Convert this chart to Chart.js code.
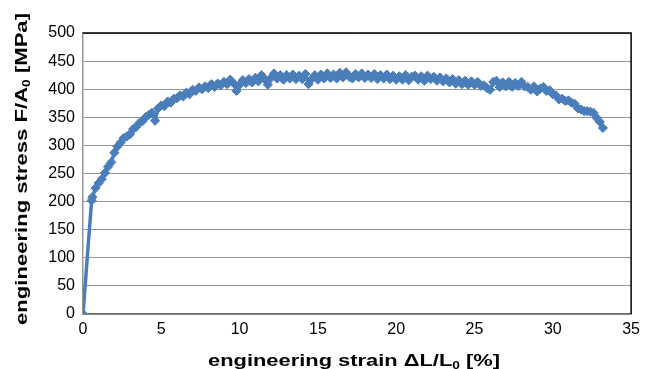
<!DOCTYPE html>
<html>
<head>
<meta charset="utf-8">
<script src="https://cdn.jsdelivr.net/npm/chart.js@4/dist/chart.umd.min.js"></script>
<style>
  html, body { margin: 0; padding: 0; background: #fff; }
  canvas { display: block; }
</style>
</head>
<body>
<canvas id="tensile" width="646" height="369"></canvas>
<script>
// tensile test: engineering strain [%] vs engineering stress [MPa]
const strain = [
  0, 0.55, 0.6, 0.8, 1.0, 1.2, 1.4, 1.6, 1.8, 2.0, 2.2, 2.4, 2.6, 2.8, 3.0, 3.2, 3.4, 3.6, 3.8,
  4.0, 4.2, 4.4, 4.6, 4.8, 5.0, 5.2, 5.4, 5.6, 5.8, 6.0, 6.2, 6.4, 6.6, 6.8, 7.0, 7.2, 7.4, 7.6, 7.8,
  8.0, 8.2, 8.4, 8.6, 8.8, 9.0, 9.2, 9.4, 9.6, 9.8, 10.0, 10.2, 10.4, 10.6, 10.8, 11.0, 11.2, 11.4,
  11.6, 11.8, 12.0, 12.2, 12.4, 12.6, 12.8, 13.0, 13.2, 13.4, 13.6, 13.8, 14.0, 14.2, 14.4, 14.6,
  14.8, 15.0, 15.2, 15.4, 15.6, 15.8, 16.0, 16.2, 16.4, 16.6, 16.8, 17.0, 17.2, 17.4, 17.6, 17.8,
  18.0, 18.2, 18.4, 18.6, 18.8, 19.0, 19.2, 19.4, 19.6, 19.8, 20.0, 20.2, 20.4, 20.6, 20.8, 21.0,
  21.2, 21.4, 21.6, 21.8, 22.0, 22.2, 22.4, 22.6, 22.8, 23.0, 23.2, 23.4, 23.6, 23.8, 24.0, 24.2,
  24.4, 24.6, 24.8, 25.0, 25.2, 25.4, 25.6, 25.8, 26.0, 26.2, 26.4, 26.6, 26.8, 27.0, 27.2, 27.4,
  27.6, 27.8, 28.0, 28.2, 28.4, 28.6, 28.8, 29.0, 29.2, 29.4, 29.6, 29.8, 30.0, 30.2, 30.4, 30.6,
  30.8, 31.0, 31.2, 31.4, 31.6, 31.8, 32.0, 32.2, 32.4, 32.6, 32.8, 33.0, 33.2
];
const stress = [
  0, 202, 208, 224, 233, 240, 251, 262, 270, 287, 298, 305, 313, 316, 320, 329, 333, 340, 343,
  350, 354, 358, 344, 366, 371, 370, 378, 376, 383, 384, 389, 387, 394, 391, 399, 397, 403, 400, 405,
  402, 409, 404, 410, 407, 413, 409, 417, 411, 397, 408, 416, 411, 418, 412, 420, 414, 425,
  418, 408, 420, 428, 419, 425, 417, 425, 419, 426, 418, 424, 418, 427, 409, 418,
  425, 417, 426, 419, 428, 420, 426, 419, 429, 421, 430, 422, 419, 427, 421, 428,
  420, 426, 420, 427, 418, 425, 419, 426, 418, 424, 417, 423, 417, 425, 416, 422,
  424, 417, 423, 415, 424, 418, 422, 415, 421, 414, 419, 412, 418, 410, 416, 409,
  415, 408, 414, 408, 413, 406, 407, 402, 399, 413, 415, 404, 412, 405, 413, 404,
  411, 406, 413, 405, 404, 399, 405, 396, 401, 404, 397, 398, 391, 389, 382, 383,
  379, 380, 376, 374, 366, 364, 361, 361, 360, 358, 349, 342, 331
];
const xTicks = [0, 5, 10, 15, 20, 25, 30, 35];
const yTicks = [0, 50, 100, 150, 200, 250, 300, 350, 400, 450, 500];

const xTitle = [['engineering strain \u0394L/L'], ['0', true], [' [%]']];
const yTitle = [['engineering stress F/A'], ['0', true], [' [MPa]']];

const lineBlue = 'rgb(74,126,187)';
const gridGrey = '#969696';
const fontFamily = '"Liberation Sans", Arial, sans-serif';

// title with subscripted parts, centred on the origin and stretched to a given length
function drawTitle(ctx, parts, size, length) {
  const mainFont = 'bold ' + size + 'px ' + fontFamily;
  const subFont = 'bold ' + Math.round(size * 0.65) + 'px ' + fontFamily;
  let total = 0;
  parts.forEach(p => {
    ctx.font = p[1] ? subFont : mainFont;
    total += ctx.measureText(p[0]).width;
  });
  ctx.scale(length / total, 1);
  let x = -total / 2;
  ctx.fillStyle = '#000';
  ctx.textBaseline = 'alphabetic';
  ctx.textAlign = 'left';
  parts.forEach(p => {
    ctx.font = p[1] ? subFont : mainFont;
    ctx.fillText(p[0], x, p[1] ? 3 : 0);
    x += ctx.measureText(p[0]).width;
  });
}

const frameAndTitles = {
  id: 'frameAndTitles',
  afterDraw(chart) {
    const ctx = chart.ctx;
    const a = chart.chartArea;
    ctx.save();
    // top and right frame of the plot area
    ctx.strokeStyle = '#000';
    ctx.lineWidth = 1.5;
    ctx.beginPath();
    ctx.moveTo(a.left, a.top);
    ctx.lineTo(a.right, a.top);
    ctx.lineTo(a.right, a.bottom);
    ctx.stroke();

    ctx.translate(354, 366);
    drawTitle(ctx, xTitle, 16, 292);
    ctx.restore();

    ctx.save();
    ctx.translate(27, 169);
    ctx.rotate(-Math.PI / 2);
    drawTitle(ctx, yTitle, 16, 312);
    ctx.restore();
  }
};

new Chart(document.getElementById('tensile'), {
  type: 'line',
  data: {
    datasets: [{
      data: strain.map((s, i) => ({x: s, y: stress[i]})),
      borderColor: lineBlue,
      backgroundColor: lineBlue,
      borderWidth: 3.5,
      pointStyle: 'rectRot',
      pointRadius: 4.6,
      pointBorderWidth: 1,
      tension: 0,
      fill: false,
    }],
  },
  options: {
    responsive: false,
    animation: false,
    layout: { padding: { top: 33, right: 13, left: 0, bottom: 0 } },
    plugins: {
      legend: { display: false },
      tooltip: { enabled: false },
    },
    scales: {
      x: {
        type: 'linear',
        min: 0,
        max: 35,
        afterBuildTicks: scale => { scale.ticks = xTicks.map(v => ({value: v})); },
        afterFit: scale => { scale.height = 55; },
        grid: { display: false, drawTicks: false },
        border: { display: true, color: '#707070', width: 1.5 },
        ticks: { color: '#000', padding: 6, font: { family: fontFamily, size: 16 } },
      },
      y: {
        type: 'linear',
        min: 0,
        max: 500,
        afterBuildTicks: scale => { scale.ticks = yTicks.map(v => ({value: v})); },
        afterFit: scale => { scale.width = 83; },
        grid: { color: gridGrey, lineWidth: 1, drawTicks: false },
        border: { display: true, color: gridGrey, width: 1.5 },
        ticks: { color: '#000', padding: 8, font: { family: fontFamily, size: 16 } },
      },
    },
  },
  plugins: [frameAndTitles],
});
</script>
</body>
</html>
